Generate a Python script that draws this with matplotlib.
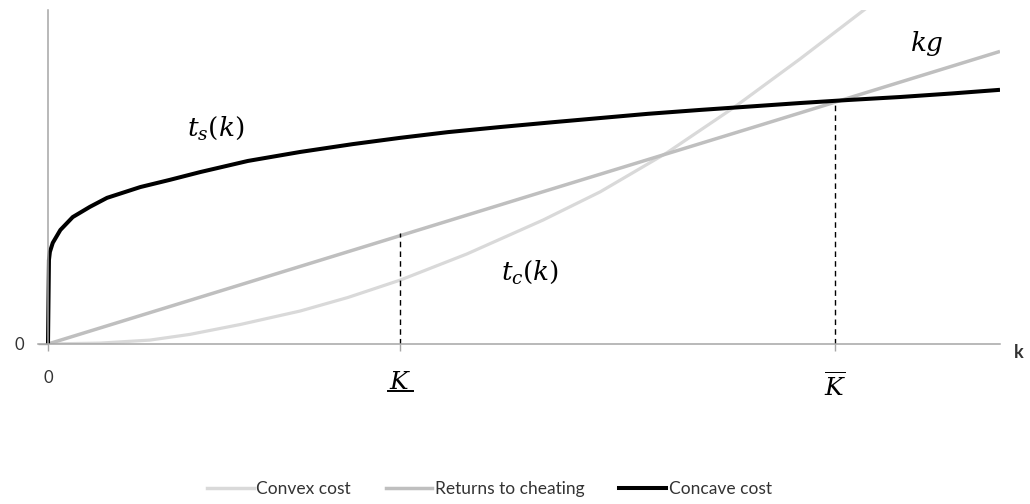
import matplotlib
matplotlib.use("Agg")
import matplotlib.pyplot as plt
import matplotlib.transforms as mtransforms
from matplotlib.lines import Line2D

# ── Data (k on 0–100 scale, cost on arbitrary units) ─────────────────────────

K_LOW  = 37.0    # underline K
K_HIGH = 82.7    # overline K
K_LOW_TOP  = 37.0   # height of returns line at K_LOW
K_HIGH_TOP = 80.3   # height where concave meets returns

# returns to cheating (kg)
rtc_k = [0, 25, 50, 75, 100]
rtc_y = [0, 24.4, 48.8, 73.1, 97.5]

# concave cost t_s(k)
conc_k = [0, 0.1, 0.2, 0.5, 1.3, 2.6, 4.4, 6.2, 9.7, 12.8, 16.0, 21.0, 26.5,
          32.0, 37.0, 42.0, 47.5, 53.0, 58.0, 63.0, 68.5, 74.0, 79.0, 84.0,
          89.5, 95.0, 100.0]
conc_y = [0, 28.0, 30.7, 33.7, 38.0, 42.3, 45.7, 48.7, 52.3, 54.7, 57.3, 61.0,
          64.0, 66.6, 68.7, 70.6, 72.3, 73.9, 75.3, 76.7, 78.0, 79.2, 80.3,
          81.3, 82.3, 83.5, 84.7]

# convex cost t_c(k)
conv_k = [0, 5.5, 10.7, 14.9, 20.2, 26.5, 31.5, 37.0, 44.0, 52.0, 58.0, 65.0,
          72.0, 79.0, 86.0, 88.0]
conv_y = [0, 0.3, 1.3, 3.2, 6.5, 11.0, 15.5, 21.3, 30.0, 41.3, 50.7, 63.7,
          78.7, 95.0, 112.0, 117.0]

X_MIN = -1.05
X_MAX = 100
Y_MAX = 111.3

C_CONVEX  = "#d9d9d9"
C_RETURNS = "#bfbfbf"
C_CONCAVE = "#000000"
C_AXIS    = "#a6a6a6"
C_TEXT    = "#333333"

plt.rcParams["mathtext.fontset"] = "dejavuserif"
plt.rcParams["font.family"] = ["Lato", "DejaVu Sans"]

fig = plt.figure(figsize=(10.3, 5.04), dpi=100)
ax = fig.add_axes([38 / 1030, 160 / 504, 962 / 1030, 334 / 504])

ax.plot(conv_k, conv_y, color=C_CONVEX, lw=2.3, solid_capstyle="butt")
ax.plot(rtc_k, rtc_y, color=C_RETURNS, lw=2.5, solid_capstyle="butt")
ax.plot(conc_k, conc_y, color=C_CONCAVE, lw=2.9, solid_capstyle="butt")

# dashed markers for the two thresholds
ax.plot([K_LOW, K_LOW], [0, K_LOW_TOP], color="black", lw=1.0,
        ls=(0, (4, 3)))
ax.plot([K_HIGH, K_HIGH], [0, K_HIGH_TOP], color="black", lw=1.0,
        ls=(0, (4, 3)))

# curve labels
ax.text(17.6, 72.0, r"$t_s(k)$", fontsize=19, ha="center", va="center",
        color="black")
ax.text(50.6, 24.0, r"$t_c(k)$", fontsize=19, ha="center", va="center",
        color="black")
ax.text(92.3, 100.3, r"$kg$", fontsize=19, ha="center", va="center",
        color="black")

# axes styling (Excel-like crossing axes)
ax.set_xlim(X_MIN, X_MAX)
ax.set_ylim(0, Y_MAX)
for s in ("top", "right"):
    ax.spines[s].set_visible(False)
ax.spines["left"].set_position(("data", 0))
for s in ("left", "bottom"):
    ax.spines[s].set_color(C_AXIS)
    ax.spines[s].set_linewidth(1.1)

ax.set_xticks([0, K_LOW, K_HIGH])
ax.set_xticklabels(["0", r"$K$", r"$\overline{K}$"])
labs = ax.get_xticklabels()
labs[0].set_fontsize(12)
labs[0].set_color(C_TEXT)
for lab in labs[1:]:
    lab.set_fontsize(18)
    lab.set_color("black")
ax.tick_params(axis="x", direction="out", length=5, width=1.0,
               color=C_AXIS, pad=14)
ax.set_yticks([0])
ax.set_yticklabels(["0"])
ax.tick_params(axis="y", direction="out", length=7, width=1.0,
               color=C_AXIS, pad=10, labelsize=12, labelcolor=C_TEXT)

# underline for the lower threshold label (mathtext has no \underline)
blend = mtransforms.blended_transform_factory(ax.transData, ax.transAxes)
ax.plot([K_LOW - 1.3, K_LOW + 1.3], [-0.14, -0.14], transform=blend,
        color="black", lw=1.4, clip_on=False)

ax.text(1.019, -0.024, "k", transform=ax.transAxes, fontsize=13,
        fontweight="bold", ha="center", va="center", color=C_TEXT,
        clip_on=False)

handles = [
    Line2D([], [], color=C_CONVEX, lw=2.5),
    Line2D([], [], color=C_RETURNS, lw=2.5),
    Line2D([], [], color=C_CONCAVE, lw=2.9),
]
fig.legend(handles, ["Convex cost", "Returns to cheating", "Concave cost"],
           loc="center", bbox_to_anchor=(0.475, 0.03), ncol=3,
           frameon=False, fontsize=12.5, handlelength=2.7,
           handletextpad=0.15, columnspacing=2.0, labelcolor=C_TEXT)

fig.savefig("out.png", dpi=100)
